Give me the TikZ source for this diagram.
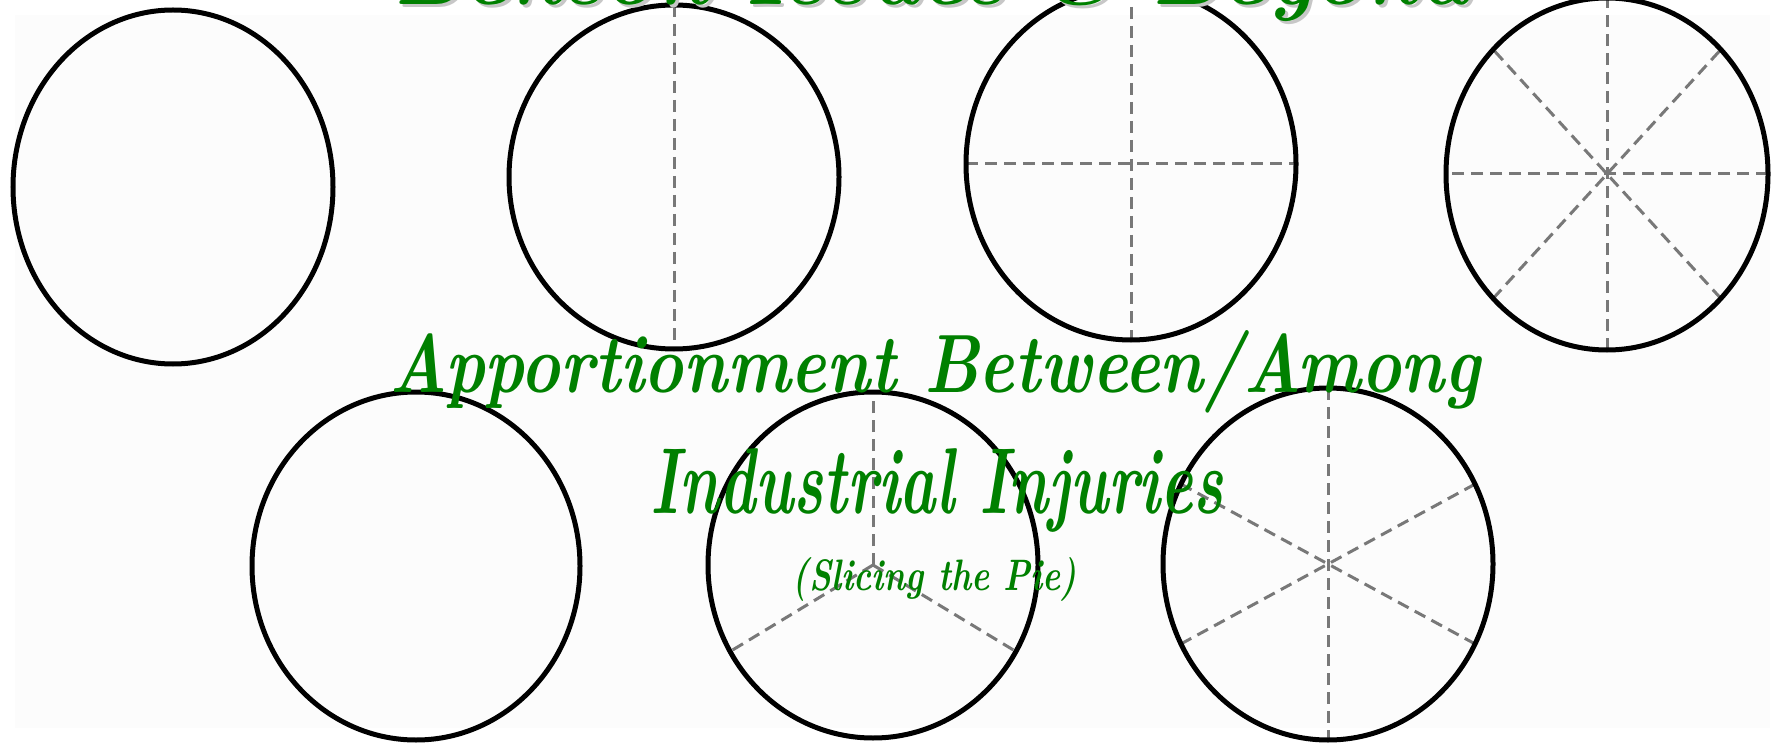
\documentclass[tikz,border=0pt]{standalone}
\usepackage{graphicx}
\usetikzlibrary{calc}
\definecolor{titlegreen}{RGB}{0,128,0}
\definecolor{spokegray}{RGB}{120,120,120}
\tikzset{
  pie/.style={draw=black, line width=5pt},
  spoke/.style={draw=spokegray, line width=3pt, dash pattern=on 12pt off 7pt},
  label/.style={inner sep=0pt, anchor=base, text=titlegreen, font=\itshape},
}
\begin{document}
\begin{tikzpicture}[x=1pt,y=-1pt]
\useasboundingbox (0,0) rectangle (1785,743);
\clip (0,0) rectangle (1785,743);
\fill[white] (0,0) rectangle (1785,743);
\fill[black!1] (15,15) rectangle (1770,728);

% circle 1
\draw[pie] (173,187) ellipse [x radius=160, y radius=177];
% circle 2
\coordinate (c2) at (674,177);
\draw[spoke] ($(c2)+(0,-172)$) -- ($(c2)+(0,172)$);
\draw[pie] (c2) ellipse [x radius=165, y radius=172];
% circle 3
\coordinate (c3) at (1131,164);
\draw[spoke] ($(c3)+(0,-176)$) -- ($(c3)+(0,176)$);
\draw[spoke] ($(c3)+(-165,0)$) -- ($(c3)+(165,0)$);
\draw[pie] (c3) ellipse [x radius=165, y radius=176];
% circle 4
\coordinate (c4) at (1607,174);
\foreach \a in {0,45,90,135} {
  \draw[spoke] ($(c4)+({161*cos(\a)},{176*sin(\a)})$) -- ($(c4)+({-161*cos(\a)},{-176*sin(\a)})$);
}
\draw[pie] (c4) ellipse [x radius=161, y radius=176];
% circle 5
\draw[pie] (416,566) ellipse [x radius=164, y radius=174];
% circle 6
\coordinate (c6) at (873,565);
\foreach \a in {90,210,330} {
  \draw[spoke] (c6) -- ($(c6)+({165*cos(\a)},{-173*sin(\a)})$);
}
\draw[pie] (c6) ellipse [x radius=165, y radius=173];
% circle 7
\coordinate (c7) at (1328,564);
\foreach \a in {90,27,153} {
  \draw[spoke] ($(c7)+({165*cos(\a)},{-176*sin(\a)})$) -- ($(c7)+({-165*cos(\a)},{176*sin(\a)})$);
}
\draw[pie] (c7) ellipse [x radius=165, y radius=176];

% texts
\node[label, text=black!22] (titleshadow) at (935,8) {\resizebox{1075pt}{!}{\bfseries\itshape Benson Issues \& Beyond}};
\node[label] (title) at (932,5) {\resizebox{1075pt}{!}{\bfseries\itshape Benson Issues \& Beyond}};
\node[label] (line1) at (935,392) {\resizebox{1090pt}{62pt}{\bfseries\itshape Apportionment Between/Among}};
\node[label] (line2) at (937,513) {\resizebox{572pt}{65pt}{\bfseries\itshape Industrial Injuries}};
\node[label] (line3) at (935,590) {\resizebox{284pt}{33pt}{\bfseries\itshape (Slicing the Pie)}};
\end{tikzpicture}
\end{document}
